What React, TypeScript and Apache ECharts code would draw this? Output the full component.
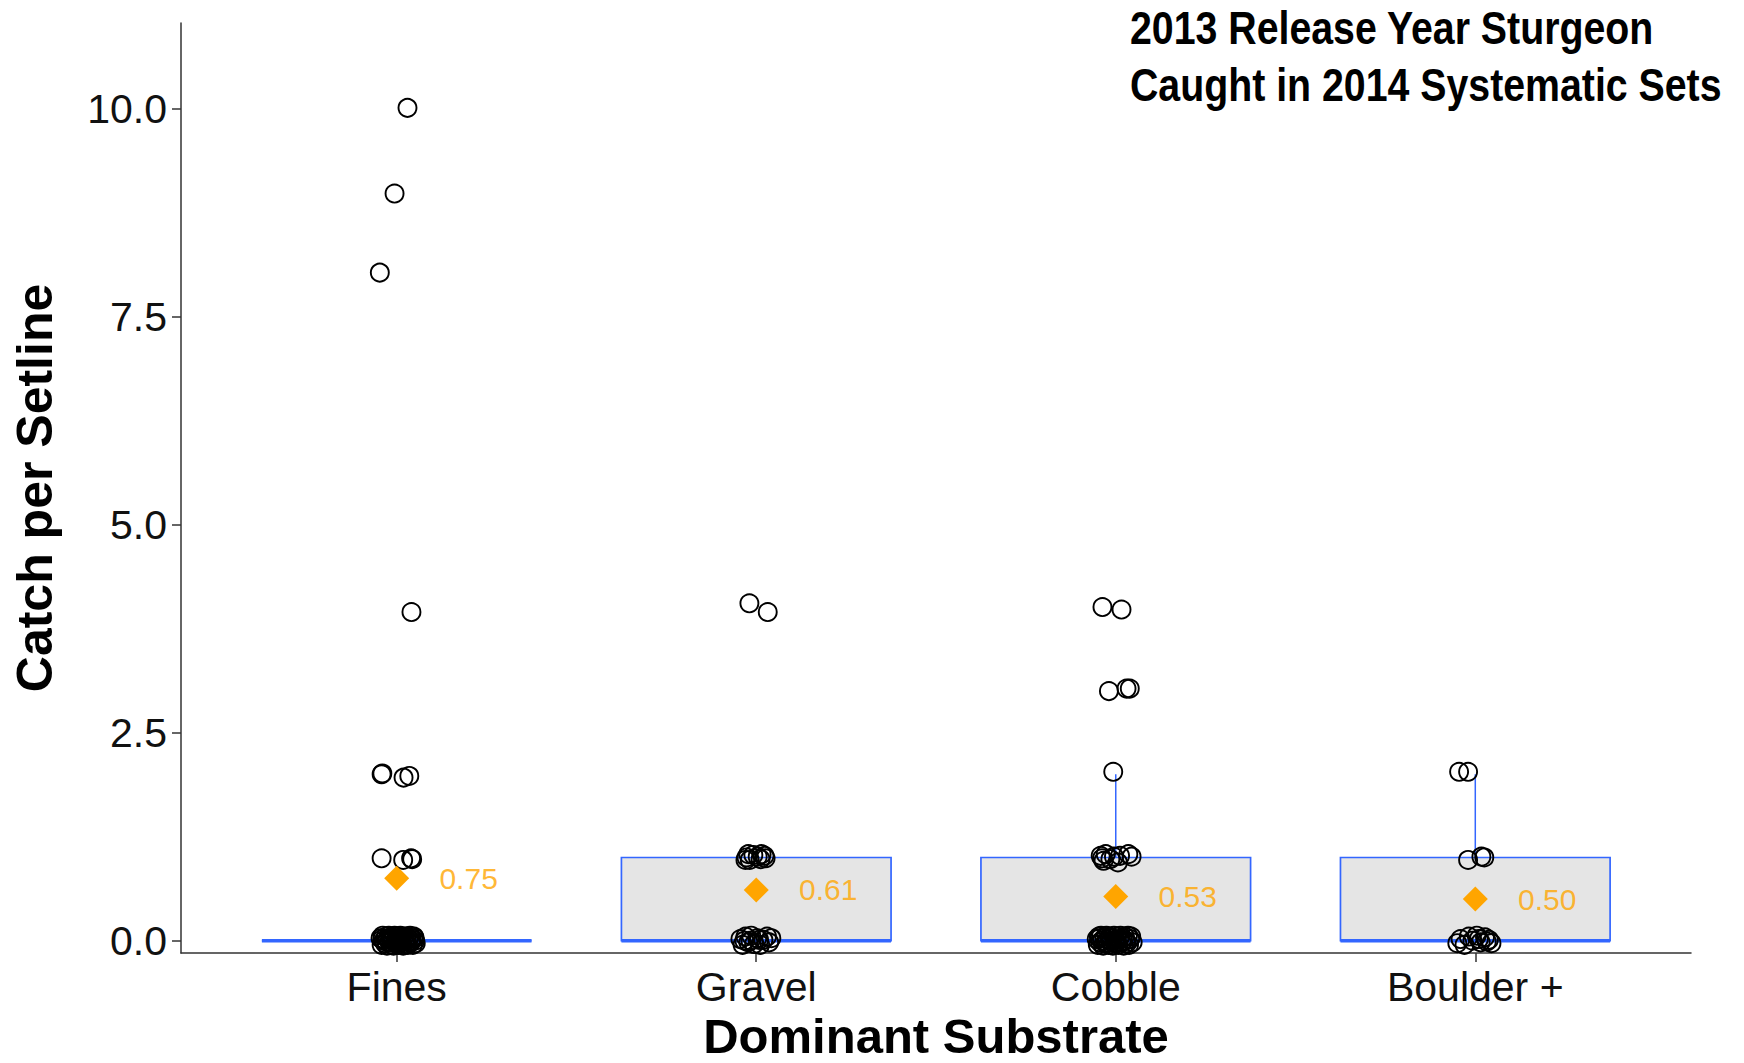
import React, { useEffect, useRef } from "react";
import * as echarts from "echarts";

// ---------- data ----------
const categories = ["Fines", "Gravel", "Cobble", "Boulder +"];
const meanValues = [0.75, 0.61, 0.53, 0.5];
const boxQ1 = [0, 0, 0, 0];
const boxMedian = [0, 0, 0, 0];
const boxQ3 = [0, 1, 1, 1];
const whiskerLow = [0, 0, 0, 0];
const whiskerHigh = [0, 1, 2, 2];
const yTicks = [0, 2.5, 5, 7.5, 10];
const titleLines = ["2013 Release Year Sturgeon", "Caught in 2014 Systematic Sets"];

// jittered observations: [x-offset from category centre, catch per setline]
const finesPoints = [
  [0.03, 10.01], [-0.006, 8.98], [-0.047, 8.03], [0.041, 3.95],
  [-0.042, 2.0], [-0.04, 2.01], [0.019, 1.96], [0.035, 1.98],
  [-0.042, 0.99], [0.018, 0.97], [0.04, 0.99], [0.043, 0.98],
  [-0.045, 0.03], [-0.042, -0.05], [-0.039, 0.06], [-0.036, 0.0], [-0.033, -0.03],
  [-0.03, 0.05], [-0.027, -0.06], [-0.025, 0.02], [-0.022, 0.06], [-0.019, -0.02],
  [-0.017, 0.04], [-0.014, -0.05], [-0.011, 0.03], [-0.009, -0.06], [-0.006, 0.06],
  [-0.003, 0.0], [-0.001, -0.03], [0.002, 0.05], [0.005, -0.05], [0.007, 0.01],
  [0.01, 0.06], [0.013, -0.02], [0.015, 0.03], [0.018, -0.06], [0.021, 0.05],
  [0.023, 0.0], [0.026, -0.04], [0.029, 0.05], [0.031, -0.05], [0.034, 0.02],
  [0.037, 0.06], [0.039, -0.02], [0.042, 0.03], [0.045, -0.05], [0.048, 0.05],
  [0.051, 0.0], [0.053, -0.03], [-0.04, 0.02], [-0.029, -0.01], [-0.016, 0.01],
  [0.0, 0.03], [0.012, 0.04], [0.027, 0.01], [0.04, 0.0], [0.05, 0.03],
];
const gravelPoints = [
  [-0.019, 4.055], [0.032, 3.95],
  [-0.027, 1.0], [-0.018, 0.97], [-0.008, 1.03], [0.004, 1.01], [0.012, 0.98],
  [0.023, 1.02], [-0.022, 1.04], [0.015, 1.04], [-0.03, 0.97], [0.026, 0.99],
  [-0.044, 0.02], [-0.038, -0.05], [-0.03, 0.05], [-0.022, -0.02], [-0.014, 0.06],
  [-0.006, -0.04], [0.003, 0.03], [0.011, -0.05], [0.02, 0.01], [0.03, 0.05],
  [0.036, -0.02], [-0.016, 0.0], [0.008, 0.01], [0.042, 0.03], [-0.033, 0.0],
];
const cobblePoints = [
  [-0.037, 4.01], [0.016, 3.98], [-0.019, 3.0], [0.03, 3.03], [0.039, 3.03], [-0.007, 2.03],
  [-0.042, 1.02], [-0.034, 0.96], [-0.028, 1.04], [-0.015, 0.98], [-0.005, 1.01],
  [0.006, 0.94], [0.012, 1.02], [0.035, 1.04], [0.044, 1.01], [-0.038, 0.99],
  [-0.053, 0.02], [-0.05, -0.05], [-0.047, 0.05], [-0.044, -0.02], [-0.041, 0.06],
  [-0.038, 0.0], [-0.035, -0.06], [-0.032, 0.03], [-0.029, -0.03], [-0.026, 0.06],
  [-0.023, 0.01], [-0.02, -0.05], [-0.017, 0.05], [-0.014, -0.01], [-0.011, 0.03],
  [-0.008, -0.06], [-0.005, 0.06], [-0.002, 0.0], [0.001, -0.03], [0.004, 0.05],
  [0.007, -0.05], [0.01, 0.02], [0.013, 0.06], [0.016, -0.02], [0.019, 0.03],
  [0.022, -0.06], [0.025, 0.05], [0.028, 0.0], [0.031, -0.03], [0.034, 0.06],
  [0.037, -0.05], [0.04, 0.02], [0.043, 0.05], [0.047, -0.02], [-0.045, 0.03],
  [0.0, 0.01], [-0.025, -0.02], [0.02, 0.0],
];
const boulderPoints = [
  [-0.045, 2.03], [-0.02, 2.03], [-0.02, 0.97], [0.017, 1.01], [0.025, 1.0],
  [-0.05, -0.03], [-0.041, 0.02], [-0.03, -0.05], [-0.018, 0.05], [-0.008, 0.0],
  [0.004, 0.06], [0.015, -0.02], [0.027, 0.04], [0.038, 0.01], [0.045, -0.03],
  [0.01, 0.02], [0.032, -0.01],
];
const pointsByCategory = [finesPoints, gravelPoints, cobblePoints, boulderPoints];

// ---------- styling ----------
const FONT = '"Liberation Sans", Arial, sans-serif';
const BOX_BLUE = "#3366FF";
const BOX_FILL = "#E5E5E5";
const MEAN_ORANGE = "#FFA500";
const AXIS_COLOR = "#333333";
const BOX_HALF_WIDTH = 0.375;
const LABEL_NUDGE = 0.2;

export default function App() {
  const ref = useRef<HTMLDivElement>(null);

  useEffect(() => {
    if (!ref.current) return;
    const chart = echarts.init(ref.current, undefined, { renderer: "svg" });

    const boxData = categories.map((_, i) => [
      i + 1, boxQ1[i], boxMedian[i], boxQ3[i], whiskerLow[i], whiskerHigh[i],
    ]);

    const pointData: number[][] = [];
    pointsByCategory.forEach((pts, i) => {
      pts.forEach(([dx, v]) => pointData.push([i + 1 + dx, v]));
    });

    const option: any = {
      animation: false,
      backgroundColor: "#ffffff",
      grid: {
        left: 181,
        right: 53,
        top: 23,
        bottom: 110,
        containLabel: false,
        outerBoundsMode: "none",
      },
      xAxis: {
        type: "value",
        min: 0.4,
        max: 4.6,
        name: "Dominant Substrate",
        nameLocation: "middle",
        nameGap: 65,
        nameTextStyle: {
          fontFamily: FONT,
          fontWeight: "bold",
          fontSize: 49,
          lineHeight: 30,
          color: "#000",
        },
        axisLine: { show: true, onZero: false, lineStyle: { color: AXIS_COLOR, width: 1.5 } },
        axisTick: {
          show: true,
          length: 9,
          customValues: [1, 2, 3, 4],
          lineStyle: { color: AXIS_COLOR, width: 1.5 },
        },
        axisLabel: {
          show: true,
          customValues: [1, 2, 3, 4],
          margin: 13,
          fontFamily: FONT,
          fontSize: 41,
          color: "#111",
          formatter: (v: number) => categories[Math.round(v) - 1] ?? "",
        },
        splitLine: { show: false },
      },
      yAxis: {
        type: "value",
        min: -0.148,
        max: 11.03,
        name: "Catch per Setline",
        nameLocation: "middle",
        nameGap: 121,
        nameRotate: 90,
        nameTextStyle: { fontFamily: FONT, fontWeight: "bold", fontSize: 50, color: "#000" },
        axisLine: { show: true, onZero: false, lineStyle: { color: AXIS_COLOR, width: 1.5 } },
        axisTick: {
          show: true,
          length: 9,
          customValues: yTicks,
          lineStyle: { color: AXIS_COLOR, width: 1.5 },
        },
        axisLabel: {
          show: true,
          customValues: yTicks,
          margin: 14,
          fontFamily: FONT,
          fontSize: 41,
          color: "#111",
          formatter: (v: number) => v.toFixed(1),
        },
        splitLine: { show: false },
      },
      graphic: [
        {
          type: "group",
          x: 1130,
          y: 4,
          children: titleLines.map((t, k) => ({
            type: "text",
            x: 0,
            y: k * 57,
            scaleX: 0.836,
            style: {
              text: t,
              fontFamily: FONT,
              fontWeight: "bold",
              fontSize: 47,
              fill: "#000",
              textVerticalAlign: "top",
            },
          })),
        },
      ],
      series: [
        {
          type: "custom",
          name: "box",
          data: boxData,
          encode: { x: 0, y: [1, 2, 3, 4, 5] },
          clip: false,
          renderItem: (params: any, api: any) => {
            const x = api.value(0);
            const q1 = api.value(1);
            const med = api.value(2);
            const q3 = api.value(3);
            const lo = api.value(4);
            const hi = api.value(5);
            const pLeftQ1 = api.coord([x - BOX_HALF_WIDTH, q1]);
            const pRightQ3 = api.coord([x + BOX_HALF_WIDTH, q3]);
            const pCenterQ3 = api.coord([x, q3]);
            const pCenterHi = api.coord([x, hi]);
            const pCenterQ1 = api.coord([x, q1]);
            const pCenterLo = api.coord([x, lo]);
            const pMedL = api.coord([x - BOX_HALF_WIDTH, med]);
            const pMedR = api.coord([x + BOX_HALF_WIDTH, med]);
            const children: any[] = [];
            if (hi > q3) {
              children.push({
                type: "line",
                shape: { x1: pCenterQ3[0], y1: pCenterQ3[1], x2: pCenterHi[0], y2: pCenterHi[1] },
                style: { stroke: BOX_BLUE, lineWidth: 1.5 },
              });
            }
            if (lo < q1) {
              children.push({
                type: "line",
                shape: { x1: pCenterQ1[0], y1: pCenterQ1[1], x2: pCenterLo[0], y2: pCenterLo[1] },
                style: { stroke: BOX_BLUE, lineWidth: 1.5 },
              });
            }
            children.push({
              type: "rect",
              shape: {
                x: pLeftQ1[0],
                y: pRightQ3[1],
                width: pRightQ3[0] - pLeftQ1[0],
                height: pLeftQ1[1] - pRightQ3[1],
              },
              style: { fill: BOX_FILL, stroke: BOX_BLUE, lineWidth: 1.7 },
            });
            children.push({
              type: "line",
              shape: { x1: pMedL[0], y1: pMedL[1], x2: pMedR[0], y2: pMedR[1] },
              style: { stroke: BOX_BLUE, lineWidth: 3.6 },
            });
            return { type: "group", children };
          },
          z: 1,
        },
        {
          type: "scatter",
          name: "observations",
          data: pointData,
          symbol: "circle",
          symbolSize: 18,
          clip: false,
          itemStyle: {
            color: "rgba(0,0,0,0)",
            borderColor: "#000",
            borderWidth: 1.9,
            opacity: 1,
          },
          z: 2,
        },
        {
          type: "scatter",
          name: "mean",
          data: meanValues.map((m, i) => [i + 1, m]),
          symbol: "diamond",
          symbolSize: 25,
          itemStyle: { color: MEAN_ORANGE, opacity: 1 },
          z: 3,
        },
        {
          type: "scatter",
          name: "meanLabel",
          data: meanValues.map((m, i) => [i + 1 + LABEL_NUDGE, m]),
          symbolSize: 0.01,
          itemStyle: { color: "rgba(0,0,0,0)" },
          label: {
            show: true,
            position: "inside",
            fontFamily: FONT,
            fontSize: 30,
            color: MEAN_ORANGE,
            formatter: (p: any) => Number(p.value[1]).toFixed(2),
          },
          z: 4,
        },
      ],
    };

    chart.setOption(option);
    return () => chart.dispose();
  }, []);

  return (
    <div
      ref={ref}
      style={{ position: "fixed", left: 0, top: 0, width: 1744, height: 1063, background: "#fff" }}
    />
  );
}
